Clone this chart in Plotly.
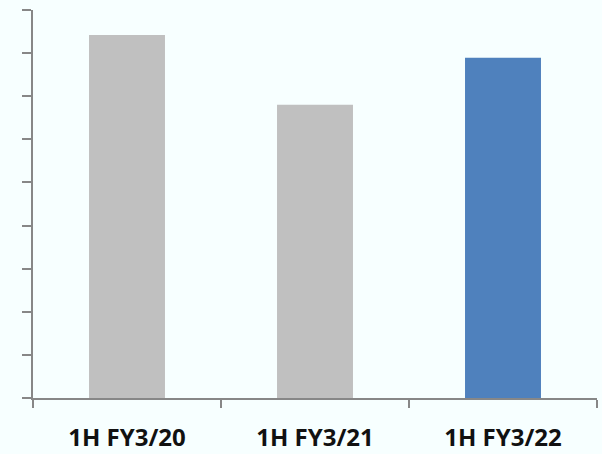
import plotly.graph_objects as go

# Half-year results (axis units: tens, labels hidden)
periods = ["1H FY3/20", "1H FY3/21", "1H FY3/22"]
values = [84.2, 68.0, 78.9]
bar_colors = ["#C0C0C0", "#C0C0C0", "#4F81BD"]

fig = go.Figure(
    go.Bar(
        x=periods,
        y=values,
        marker=dict(color=bar_colors, line=dict(width=0)),
        hoverinfo="skip",
    )
)

axis_color = "#878787"
fig.update_layout(
    width=602,
    height=454,
    margin=dict(l=33, r=5, t=10, b=56),
    paper_bgcolor="#F7FFFF",
    plot_bgcolor="#F7FFFF",
    bargap=0.596,
    showlegend=False,
    xaxis=dict(
        type="category",
        automargin=False,
        showline=True,
        linecolor=axis_color,
        linewidth=1.5,
        ticks="outside",
        tickson="boundaries",
        ticklen=8,
        tickwidth=1.5,
        tickcolor=axis_color,
        showgrid=False,
        ticklabelstandoff=17,
        tickfont=dict(family="Open Sans", size=24, color="#111111", weight="bold"),
    ),
    yaxis=dict(
        range=[0, 90],
        dtick=10,
        automargin=False,
        showline=True,
        linecolor=axis_color,
        linewidth=1.5,
        ticks="outside",
        ticklen=9,
        tickwidth=1.5,
        tickcolor=axis_color,
        showgrid=False,
        zeroline=False,
        showticklabels=False,
    ),
)

fig.write_html("out.html")
